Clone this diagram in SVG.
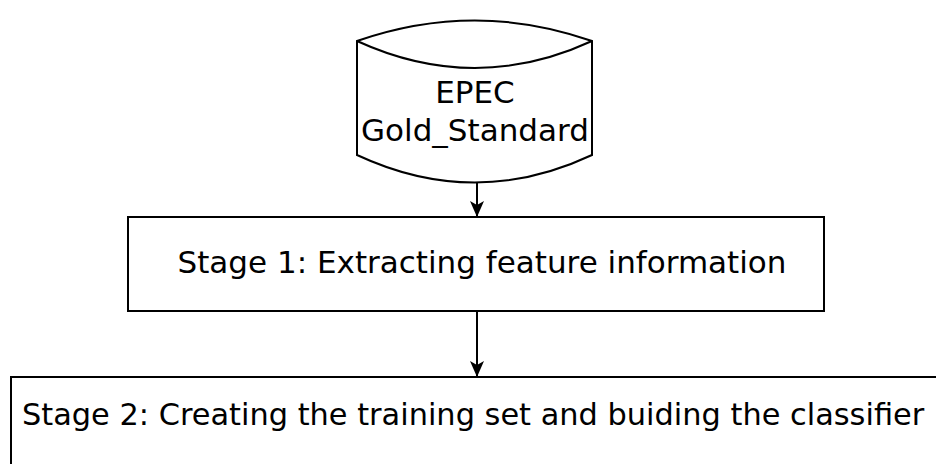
<svg xmlns="http://www.w3.org/2000/svg" width="936" height="464" viewBox="0 0 936 464">
<style>
.shape{fill:#fff;stroke:#000;stroke-width:2}
.conn{stroke:#000;stroke-width:2;fill:none}
text{font-family:"DejaVu Sans",sans-serif;font-size:31px;fill:#000}
</style>
<defs>
<marker id="arr" viewBox="0 0 16 16" refX="15" refY="8" markerWidth="16" markerHeight="16" markerUnits="userSpaceOnUse" orient="auto">
<path d="M0,1 L16,8 L0,15 L4,8 Z" fill="#000"/>
</marker>
</defs>
<rect width="936" height="464" fill="#fff"/>
<g id="node-epec">
<path class="shape" d="M357,41 Q475,0 592,41 L592,155 Q475,210 357,155 Z"/>
<path class="conn" d="M357,41 Q475,95 592,41"/>
<text x="475" y="103" text-anchor="middle">EPEC</text>
<text x="475" y="141" text-anchor="middle">Gold_Standard</text>
</g>
<g id="node-stage1">
<rect class="shape" x="128" y="217" width="696" height="94"/>
<text x="482" y="273" text-anchor="middle">Stage 1: Extracting feature information</text>
</g>
<g id="node-stage2">
<rect class="shape" x="11" y="377" width="934" height="100"/>
<text x="22" y="425" style="font-size:30.4px">Stage 2: Creating the training set and buiding the classifier</text>
</g>
<g id="connectors">
<line class="conn" x1="477" y1="183" x2="477" y2="216" marker-end="url(#arr)"/>
<line class="conn" x1="477" y1="311" x2="477" y2="376" marker-end="url(#arr)"/>
</g>
</svg>
